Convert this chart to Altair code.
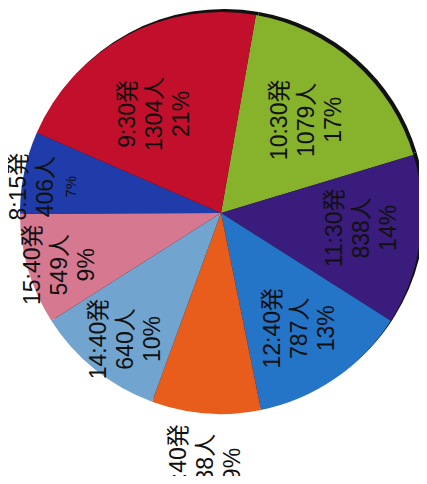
import math
import altair as alt
import pandas as pd

# ---- data ----
departures = ["10:30発", "11:30発", "12:40発", "13:40発", "14:40発", "15:40発", "8:15発", "9:30発"]
passengers = [1079, 838, 787, 538, 640, 549, 406, 1304]
shares = ["17%", "14%", "13%", "9%", "10%", "9%", "7%", "21%"]

# ---- styling ----
colors = ["#86b22c", "#3a1c7c", "#2474c8", "#e85c1c", "#72a4d0", "#d57890", "#1f3caa", "#c2102c"]
# label placement: (radius px, theta offset deg)
label_place = {
    "10:30発": (127, 1.2),
    "11:30発": (142, -1.8),
    "12:40発": (140, 0.0),
    "13:40発": (252, -0.8),
    "14:40発": (158, -1.7),
    "15:40発": (169, -1.5),
    "8:15発": (177, -3.1),
    "9:30発": (119, -5.4),
}
small_pct = {"8:15発": 15}
LH = 27

df = pd.DataFrame({
    "dep": departures,
    "n": passengers,
    "pct": shares,
    "order": list(range(len(departures))),
})
df["head"] = df["dep"] + "\n" + df["n"].astype(str) + "人"
df["label"] = df["head"] + "\n" + df["pct"]

total = sum(passengers)
start = math.radians(10)
theta_scale = alt.Scale(domain=[0, total], range=[start, start + 2 * math.pi], nice=False, zero=True)

CX, CY = 213, 205
R = 201
FONT = "Liberation Sans, Noto Sans CJK JP, sans-serif"

base = alt.Chart(df).encode(
    theta=alt.Theta("n:Q", stack=True, scale=theta_scale),
    order=alt.Order("order:Q"),
)

shadow = base.mark_arc(radius=R, color="#111111").encode(
    x=alt.value(CX + 3), y=alt.value(CY - 3)
)
pie = base.mark_arc(radius=R).encode(
    color=alt.Color("dep:N", scale=alt.Scale(domain=departures, range=colors), legend=None),
    x=alt.value(CX), y=alt.value(CY),
)


def label_layer(d, field, size, dy):
    r, off = label_place[d]
    return (
        alt.Chart(df)
        .transform_stack(stack="n", as_=["s0", "s1"], groupby=[], sort=[alt.SortField("order")])
        .transform_calculate(mid="(datum.s0 + datum.s1) / 2")
        .transform_filter(alt.datum.dep == d)
        .mark_text(
            angle=270, lineBreak="\n", fontSize=size, lineHeight=LH, font=FONT,
            color="#111111", radius=r, thetaOffset=math.radians(off),
            align="center", baseline="middle", dy=dy,
        )
        .encode(
            theta=alt.Theta("mid:Q", stack=None, scale=theta_scale),
            text=alt.Text(f"{field}:N"),
            x=alt.value(CX), y=alt.value(CY),
        )
    )


layers = [shadow, pie]
for d in departures:
    if d in small_pct:
        layers.append(label_layer(d, "head", 23, -LH))
        layers.append(label_layer(d, "pct", small_pct[d], LH - 2))
    else:
        layers.append(label_layer(d, "label", 23, -LH))

chart = alt.layer(*layers).properties(
    width=411, height=468,
    autosize=alt.AutoSizeParams(type="none"),
    padding=0,
).configure_view(stroke="transparent")

chart.save("out.html", embed_options={"renderer": "svg", "actions": False})
